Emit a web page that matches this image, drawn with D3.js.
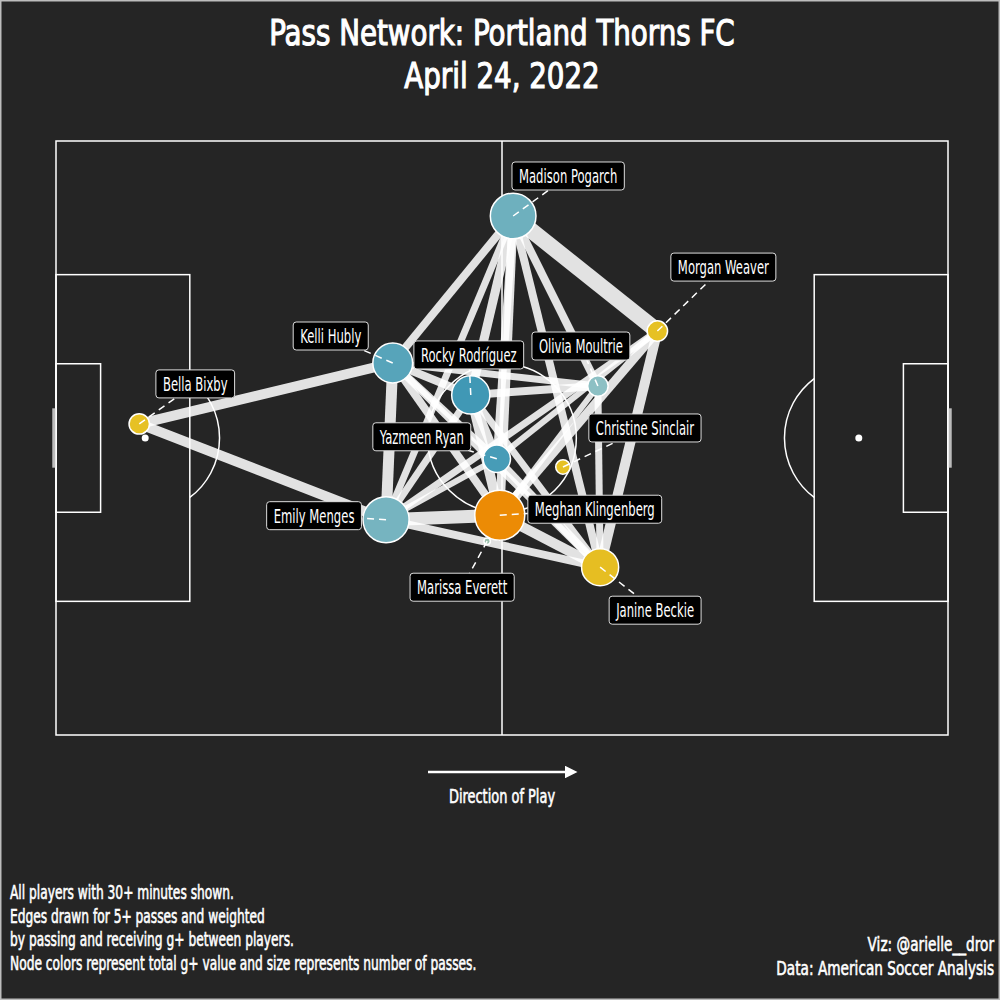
<!DOCTYPE html>
<html>
<head>
<meta charset="utf-8">
<script src="https://cdn.jsdelivr.net/npm/d3@7"></script>
<style>
  body { margin: 0; background: #252525; }
  svg { display: block; }
  text { font-family: 'DejaVu Sans Condensed', 'DejaVu Sans', sans-serif; fill: #fff; }
</style>
</head>
<body>
<svg id="svg" width="1000" height="1000"></svg>
<script>
// players: pitch location (StatsBomb 120x80), passes, total g+
const players = ['Bella Bixby', 'Madison Pogarch', 'Morgan Weaver', 'Kelli Hubly', 'Rocky Rodríguez',
  'Olivia Moultrie', 'Christine Sinclair', 'Yazmeen Ryan', 'Emily Menges', 'Meghan Klingenberg',
  'Janine Beckie', 'Marissa Everett']
const avgX = [11.2, 61.5, 80.9, 45.3, 55.8, 72.9, 68.2, 59.3, 44.4, 59.7, 73.2, 58.0]
const avgY = [38.1, 10.1, 25.6, 29.9, 34.2, 33.0, 43.9, 42.8, 51.0, 50.4, 57.4, 53.9]
const passes = [10, 50, 10, 38, 35, 10, 5, 18, 51, 60, 33, 1]
const gPlus = [0.08, -0.06, 0.08, -0.09, -0.12, -0.02, 0.08, -0.11, -0.05, 0.25, 0.09, -0.005]

// edges: passer, receiver, g+ weight
const edgeFrom = ['Bella Bixby', 'Bella Bixby', 'Madison Pogarch', 'Madison Pogarch', 'Madison Pogarch',
  'Madison Pogarch', 'Madison Pogarch', 'Madison Pogarch', 'Madison Pogarch', 'Madison Pogarch',
  'Morgan Weaver', 'Morgan Weaver', 'Morgan Weaver', 'Morgan Weaver',
  'Kelli Hubly', 'Kelli Hubly', 'Kelli Hubly', 'Kelli Hubly', 'Kelli Hubly', 'Kelli Hubly',
  'Rocky Rodríguez', 'Rocky Rodríguez', 'Rocky Rodríguez', 'Rocky Rodríguez', 'Rocky Rodríguez',
  'Emily Menges', 'Emily Menges', 'Emily Menges', 'Meghan Klingenberg', 'Olivia Moultrie',
  'Yazmeen Ryan', 'Meghan Klingenberg']
const edgeTo = ['Kelli Hubly', 'Emily Menges', 'Morgan Weaver', 'Kelli Hubly', 'Emily Menges',
  'Rocky Rodríguez', 'Yazmeen Ryan', 'Meghan Klingenberg', 'Olivia Moultrie', 'Janine Beckie',
  'Meghan Klingenberg', 'Yazmeen Ryan', 'Janine Beckie', 'Emily Menges',
  'Rocky Rodríguez', 'Olivia Moultrie', 'Emily Menges', 'Meghan Klingenberg', 'Janine Beckie', 'Yazmeen Ryan',
  'Olivia Moultrie', 'Meghan Klingenberg', 'Janine Beckie', 'Emily Menges', 'Yazmeen Ryan',
  'Meghan Klingenberg', 'Janine Beckie', 'Yazmeen Ryan', 'Janine Beckie', 'Janine Beckie',
  'Janine Beckie', 'Olivia Moultrie']
const edgeWeight = [10, 10, 16, 8, 7, 9, 8, 9, 8, 8, 9, 6, 10, 7, 8, 7, 11, 8, 7, 7,
  8, 10, 7, 7, 9, 13, 8, 6, 10, 7, 8, 6]

const title = ['Pass Network: Portland Thorns FC', 'April 24, 2022']
const notes = ['All players with 30+ minutes shown.', 'Edges drawn for 5+ passes and weighted',
  'by passing and receiving g+ between players.',
  'Node colors represent total g+ value and size represents number of passes.']
const credits = ['Viz: @arielle__dror', 'Data: American Soccer Analysis']

// label box placement relative to node (px)
const labelNudge = {
  'Bella Bixby': [56, -40], 'Madison Pogarch': [55, -40], 'Morgan Weaver': [66, -64],
  'Kelli Hubly': [-62, -27], 'Rocky Rodríguez': [-2, -40], 'Olivia Moultrie': [-17, -40],
  'Christine Sinclair': [82, -39], 'Yazmeen Ryan': [-75, -22], 'Emily Menges': [-72, -4],
  'Meghan Klingenberg': [95, -6], 'Marissa Everett': [-25, 46], 'Janine Beckie': [55, 43]
}

const svg = d3.select('#svg')
const W = 1000, H = 1000

// condensed text: squeeze horizontally to mimic the narrow display face
const narrowText = (parent, tx, ty, str, size, sx, anchor, heavy) => parent.append('text')
  .attr('transform', `translate(${tx},${ty}) scale(${sx},1)`)
  .attr('text-anchor', anchor || 'start').attr('font-size', size)
  .attr('stroke', heavy ? '#fff' : 'none').attr('stroke-width', heavy || 0)
  .text(str)

svg.append('rect').attr('x', 0.5).attr('y', 0.5).attr('width', W - 1).attr('height', H - 1)
  .attr('fill', '#252525').attr('stroke', '#bdbdbd').attr('stroke-width', 2)

const x = d3.scaleLinear().domain([0, 120]).range([56, 948])
const y = d3.scaleLinear().domain([0, 80]).range([141, 735])
const k = x(1) - x(0)

// pitch
const pitch = svg.append('g').attr('fill', 'none').attr('stroke', '#fff').attr('stroke-width', 1.5)
const rect = (x0, y0, x1, y1) => pitch.append('rect')
  .attr('x', x(x0)).attr('y', y(y0)).attr('width', x(x1) - x(x0)).attr('height', y(y1) - y(y0))
rect(0, 0, 120, 80)
rect(0, 18, 18, 62)
rect(102, 18, 120, 62)
rect(0, 30, 6, 50)
rect(114, 30, 120, 50)
pitch.append('line').attr('x1', x(60)).attr('x2', x(60)).attr('y1', y(0)).attr('y2', y(80))
pitch.append('circle').attr('cx', x(60)).attr('cy', y(40)).attr('r', 10 * k)
const arcAngle = Math.acos(6 / 10)
const arc = d3.arc().innerRadius(10 * k).outerRadius(10 * k)
pitch.append('path').attr('transform', `translate(${x(12)},${y(40)})`)
  .attr('d', arc.startAngle(Math.PI / 2 - arcAngle).endAngle(Math.PI / 2 + arcAngle)())
pitch.append('path').attr('transform', `translate(${x(108)},${y(40)})`)
  .attr('d', arc.startAngle(-Math.PI / 2 - arcAngle).endAngle(-Math.PI / 2 + arcAngle)())
;[[12, 40], [60, 40], [108, 40]].forEach(([a, b]) => svg.append('circle')
  .attr('cx', x(a)).attr('cy', y(b)).attr('r', 3.5).attr('fill', '#fff'))
;[-0.3, 120.3].forEach(gx => svg.append('line')
  .attr('x1', x(gx)).attr('x2', x(gx)).attr('y1', y(36)).attr('y2', y(44))
  .attr('stroke', '#bbb').attr('stroke-width', 3))

// network
const nodes = players.map((p, i) => ({ name: p, x: avgX[i], y: avgY[i], passes: passes[i], g: gPlus[i] }))
const byName = new Map(nodes.map(d => [d.name, d]))
const edges = edgeFrom.map((s, i) => ({ s: byName.get(s), t: byName.get(edgeTo[i]), w: edgeWeight[i] }))

const width = d3.scaleLinear().domain([0, 16]).range([0, 16])
const radius = d3.scaleSqrt().domain([0, 60]).range([0, 25])
const color = d3.scaleLinear().domain([-0.13, -0.02, 0.08, 0.25])
  .range(['#3894b4', '#8dc0c4', '#e6c124', '#ec8b05'])

svg.append('g').selectAll('line').data(edges).join('line')
  .attr('x1', d => x(d.s.x)).attr('y1', d => y(d.s.y))
  .attr('x2', d => x(d.t.x)).attr('y2', d => y(d.t.y))
  .attr('stroke', '#fff').attr('stroke-opacity', 0.87)
  .attr('stroke-width', d => width(d.w))

svg.append('g').selectAll('circle').data(nodes).join('circle')
  .attr('cx', d => x(d.x)).attr('cy', d => y(d.y))
  .attr('r', d => radius(d.passes))
  .attr('fill', d => color(d.g))
  .attr('stroke', '#fff').attr('stroke-width', 1.5)

// labels with dashed leaders
const lab = svg.append('g')
nodes.forEach(d => {
  const [dx, dy] = labelNudge[d.name]
  const cx = x(d.x), cy = y(d.y)
  lab.append('line').attr('x1', cx).attr('y1', cy).attr('x2', cx + dx).attr('y2', cy + dy)
    .attr('stroke', '#fff').attr('stroke-width', 1.5).attr('stroke-dasharray', '7,5')
})
const labelScale = 0.68
nodes.forEach(d => {
  const [dx, dy] = labelNudge[d.name]
  const cx = x(d.x) + dx, cy = y(d.y) + dy
  const g = lab.append('g')
  const box = g.append('rect')
  const t = narrowText(g, cx, cy + 7, d.name, 19, labelScale, 'middle')
  const tw = t.node().getComputedTextLength() * labelScale
  box.attr('x', cx - tw / 2 - 7).attr('y', cy - 14).attr('width', tw + 14).attr('height', 28)
    .attr('rx', 3).attr('fill', '#000').attr('stroke', '#ddd').attr('stroke-width', 1)
})

// titles
title.forEach((s, i) => narrowText(svg, 502, 45 + i * 43, s, 35, 0.88, 'middle', 1.1))

// direction of play
svg.append('defs').append('marker').attr('id', 'arrow')
  .attr('viewBox', '0 0 10 10').attr('refX', 0).attr('refY', 5)
  .attr('markerWidth', 5).attr('markerHeight', 5).attr('orient', 'auto')
  .append('path').attr('d', 'M0,0L10,5L0,10Z').attr('fill', '#fff')
svg.append('line').attr('x1', 428).attr('x2', 565).attr('y1', 772).attr('y2', 772)
  .attr('stroke', '#fff').attr('stroke-width', 2.5).attr('marker-end', 'url(#arrow)')
narrowText(svg, 502, 803, 'Direction of Play', 20, 0.72, 'middle', 0.6)

notes.forEach((s, i) => narrowText(svg, 10, 899 + i * 23.5, s, 20, 0.68, 'start', 0.6))
credits.forEach((s, i) => narrowText(svg, 994, 951 + i * 24, s, 20, 0.76, 'end', 0.6))
</script>
</body>
</html>
